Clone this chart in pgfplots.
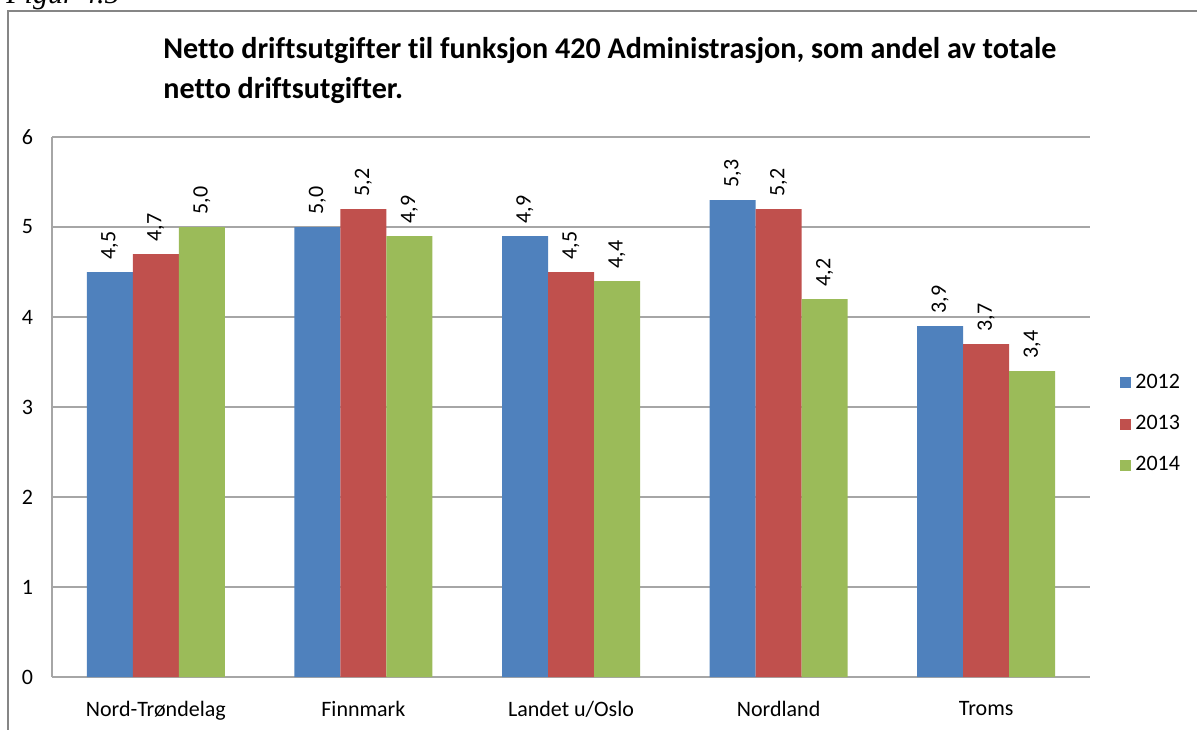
\documentclass[border=0pt]{standalone}
\usepackage{fontspec}
\setmainfont{Carlito}[Ligatures=NoCommon]
\newfontfamily\timesfont{Liberation Serif}
\usepackage{pgfplots}
\pgfplotsset{compat=1.18}
\definecolor{c12}{HTML}{4F81BD}
\definecolor{c13}{HTML}{C0504D}
\definecolor{c14}{HTML}{9BBB59}
\definecolor{gridc}{HTML}{A6A6A6}
\definecolor{framec}{HTML}{868686}

\begin{document}
\begin{tikzpicture}
% page = 1197 x 729 px, 1 px = 0.5pt, origin at the lower left of the plot area
\path[use as bounding box] (-26pt,-26pt) rectangle (572.5pt,338.5pt);
\draw[framec,line width=1pt] (-22pt,-40pt) -- (-22pt,332.75pt) -- (590pt,332.75pt);
\node[anchor=base west,font=\timesfont\itshape\fontsize{15}{17}\selectfont,inner sep=0pt] at (-23pt,336.5pt) {Figur 4.5};
\node[anchor=base west,font=\bfseries\fontsize{15.05}{17}\selectfont,inner sep=0pt] at (55.5pt,309pt)
  {Netto driftsutgifter til funksjon 420 Administrasjon, som andel av totale};
\node[anchor=base west,font=\bfseries\fontsize{15.05}{17}\selectfont,inner sep=0pt] at (55.5pt,289pt)
  {netto driftsutgifter.};
\begin{axis}[
  at={(0,0)}, anchor=south west,
  scale only axis,
  width=519pt, height=270pt,
  ybar=0pt,
  bar width=23pt,
  xmin=-0.5, xmax=4.5,
  ymin=0, ymax=6,
  xtick={0,1,2,3,4},
  xticklabels={Nord-Trøndelag,Finnmark,Landet u/Oslo,Nordland,Troms},
  ytick={0,1,2,3,4,5,6},
  major tick length=0pt,
  axis x line*=bottom,
  axis y line*=left,
  axis line style={-,draw=gridc,line width=0.6pt},
  ymajorgrids,
  major grid style={draw=gridc,line width=0.6pt},
  tick label style={font=\fontsize{11}{13}\selectfont},
  /pgf/number format/assume math mode=true,
  xticklabel style={yshift=-8.5pt},
  yticklabel style={xshift=-6pt},
  nodes near coords,
  every node near coord/.append style={font=\fontsize{11}{13}\selectfont,rotate=90,anchor=west,inner xsep=6pt,black,
    /pgf/number format/fixed,/pgf/number format/fixed zerofill,/pgf/number format/precision=1,/pgf/number format/use comma},
  legend style={draw=none,fill=none,at={(1,0.4685)},anchor=west,xshift=12pt,
    font=\fontsize{11}{13}\selectfont,row sep=8pt,
    /tikz/every even column/.append style={column sep=2pt}},
  legend cell align=left,
  legend image code/.code={\fill[#1] (0pt,-2.75pt) rectangle (5.5pt,2.75pt);},
]
\addplot[fill=c12,draw=none] coordinates {(0,4.5) (1,5.0) (2,4.9) (3,5.3) (4,3.9)};
\addplot[fill=c13,draw=none] coordinates {(0,4.7) (1,5.2) (2,4.5) (3,5.2) (4,3.7)};
\addplot[fill=c14,draw=none] coordinates {(0,5.0) (1,4.9) (2,4.4) (3,4.2) (4,3.4)};
\legend{2012,2013,2014}
\end{axis}
\end{tikzpicture}
\end{document}
